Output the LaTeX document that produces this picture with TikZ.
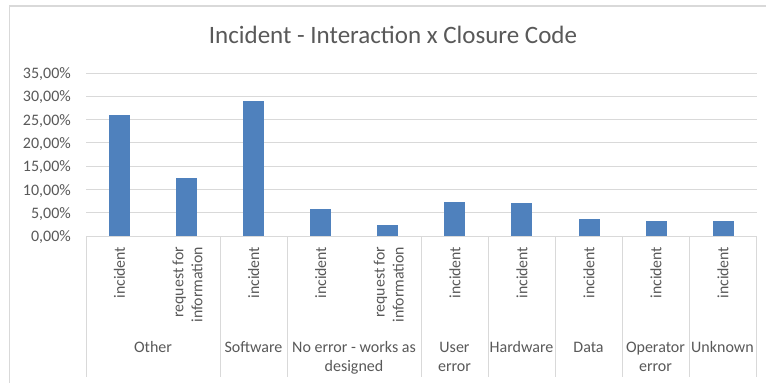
\documentclass[tikz,border=0pt]{standalone}
\usepackage{fontspec}
\setmainfont{Carlito}
\definecolor{barblue}{HTML}{4F81BD}
\definecolor{txtgray}{HTML}{595959}
\definecolor{gridgray}{HTML}{D9D9D9}
\begin{document}
\begin{tikzpicture}[x=1pt,y=-1pt,
  gridline/.style={draw=gridgray,line width=1pt},
  frameline/.style={draw=gridgray,line width=1.4pt},
  barstyle/.style={fill=barblue},
  ylab/.style={text=txtgray,font=\fontsize{16}{19}\selectfont,inner sep=0pt,anchor=base east},
  rotlab/.style={text=txtgray,font=\fontsize{15.8}{19}\selectfont,inner sep=0pt,rotate=90,anchor=east,align=right},
  catlab/.style={text=txtgray,font=\fontsize{16}{19}\selectfont,inner sep=0pt,anchor=base,align=center},
  titlestyle/.style={text=txtgray,font=\fontsize{25}{29}\selectfont,inner sep=0pt,anchor=base}]
\useasboundingbox (0,0) rectangle (766,383);
\fill[white] (0,0) rectangle (766,383);
% chart frame (cropped at right and bottom)
\draw[frameline] (9.5,383) -- (9.5,6) -- (766,6);
% title
\node[titlestyle] (title) at (393,43.3) {Incident - Interaction x Closure Code};
% gridlines and y labels
\foreach \v/\lab in {0/{0,00\%},5/{5,00\%},10/{10,00\%},15/{15,00\%},20/{20,00\%},25/{25,00\%},30/{30,00\%},35/{35,00\%}}{
  \pgfmathsetmacro{\yy}{236-\v*4.657}
  \draw[gridline] (86,\yy) -- (757,\yy);
  \node[ylab] (y\v) at (71,\yy+5.6) {\lab};
}
% category separators
\foreach \xx/\nm in {86/s0,220/s1,287/s2,421/s3,488/s4,555/s5,622/s6,689/s7,756/s8}{
  \coordinate (\nm t) at (\xx,236);
  \coordinate (\nm b) at (\xx,376.5);
  \draw[gridline] (\nm t) -- (\nm b);
}
% bars
\foreach \i/\val in {0/26.0,1/12.4,2/29.0,3/5.9,4/2.4,5/7.4,6/7.0,7/3.6,8/3.3,9/3.3}{
  \pgfmathsetmacro{\cx}{86+67.07*(\i+0.5)}
  \pgfmathsetmacro{\top}{236-\val*4.657}
  \fill[barstyle] (\cx-10.5,236) rectangle (\cx+10.5,\top);
}
% rotated sub-category labels
\node[rotlab] (r0) at (119.5,246.5) {incident};
\node[rotlab] (r1) at (187.6,246.5) {request for\\information};
\node[rotlab] (r2) at (253.7,246.5) {incident};
\node[rotlab] (r3) at (320.7,246.5) {incident};
\node[rotlab] (r4) at (388.8,246.5) {request for\\information};
\node[rotlab] (r5) at (454.9,246.5) {incident};
\node[rotlab] (r6) at (522.0,246.5) {incident};
\node[rotlab] (r7) at (589.0,246.5) {incident};
\node[rotlab] (r8) at (656.0,246.5) {incident};
\node[rotlab] (r9) at (723.0,246.5) {incident};
% category labels (base = baseline of last line)
\node[catlab] (c0) at (153,352.7) {Other};
\node[catlab] (c1) at (253.5,352.7) {Software};
\node[catlab] (c2) at (354,371.7) {No error - works as\\designed};
\node[catlab] (c3) at (454.5,371.7) {User\\error};
\node[catlab] (c4) at (521.5,352.7) {Hardware};
\node[catlab] (c5) at (588.5,352.7) {Data};
\node[catlab] (c6) at (655.5,371.7) {Operator\\error};
\node[catlab] (c7) at (722.5,352.7) {Unknown};
\end{tikzpicture}
\end{document}
